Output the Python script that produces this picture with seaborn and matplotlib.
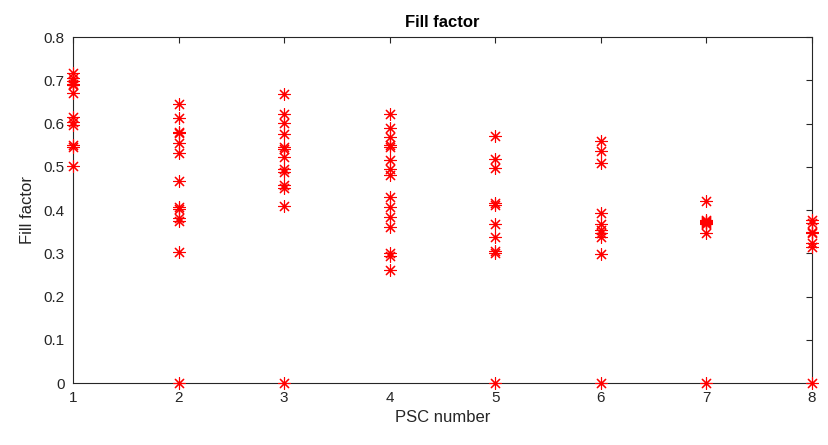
import pandas as pd
import numpy as np
import matplotlib
matplotlib.use("Agg")
import matplotlib.pyplot as plt
import seaborn as sns

# fill factor readings per PSC
psc1 = [0.716, 0.705, 0.698, 0.692, 0.690, 0.671, 0.616, 0.604, 0.597, 0.550, 0.545, 0.502]
psc2 = [0.645, 0.612, 0.581, 0.577, 0.554, 0.531, 0.468, 0.408, 0.402, 0.381, 0.375, 0.302, 0.0]
psc3 = [0.668, 0.622, 0.602, 0.576, 0.546, 0.540, 0.523, 0.494, 0.489, 0.458, 0.452, 0.409, 0.0]
psc4 = [0.623, 0.589, 0.569, 0.550, 0.546, 0.516, 0.495, 0.481, 0.429, 0.406, 0.385, 0.361,
        0.300, 0.294, 0.261]
psc5 = [0.570, 0.517, 0.498, 0.417, 0.412, 0.367, 0.338, 0.305, 0.300, 0.0]
psc6 = [0.560, 0.536, 0.508, 0.394, 0.367, 0.354, 0.346, 0.338, 0.298, 0.0]
psc7 = [0.422, 0.378, 0.375, 0.372, 0.370, 0.368, 0.348, 0.0]
psc8 = [0.377, 0.370, 0.349, 0.346, 0.324, 0.315, 0.0]

columns = [psc1, psc2, psc3, psc4, psc5, psc6, psc7, psc8]
rows = []
for i, vals in enumerate(columns):
    for v in vals:
        rows.append({"PSC": i + 1, "FF": v})
df = pd.DataFrame(rows)

sns.set_style("white")
plt.rcParams['font.family'] = ['Liberation Sans', 'DejaVu Sans']
grey = '#262626'

fig = plt.figure(figsize=(8.29, 4.45), dpi=100)
ax = fig.add_axes([0.0881, 0.1393, 0.8914, 0.7775])

sns.scatterplot(data=df, x="PSC", y="FF", ax=ax, marker=(8, 2, 0), s=75,
                color='red', edgecolor='red', linewidth=0.8, clip_on=False, zorder=3)

ax.set_xlim(1, 8)
ax.set_ylim(0, 0.8)
ax.set_xticks(range(1, 9))
ax.set_yticks(np.arange(0, 0.81, 0.1))
ax.set_yticklabels(['0', '0.1', '0.2', '0.3', '0.4', '0.5', '0.6', '0.7', '0.8'])
ax.tick_params(direction='in', top=True, right=True, length=4, width=0.8,
               colors=grey, labelsize=11, pad=6)
for sp in ax.spines.values():
    sp.set_color(grey)
    sp.set_linewidth(0.8)

ax.set_xlabel("PSC number", fontsize=12, color=grey, labelpad=3)
ax.set_ylabel("Fill factor", fontsize=12, color=grey, labelpad=6)
ax.set_title("Fill factor", fontsize=12, fontweight='bold', color='black', pad=7)

fig.savefig("out.png", dpi=100)
